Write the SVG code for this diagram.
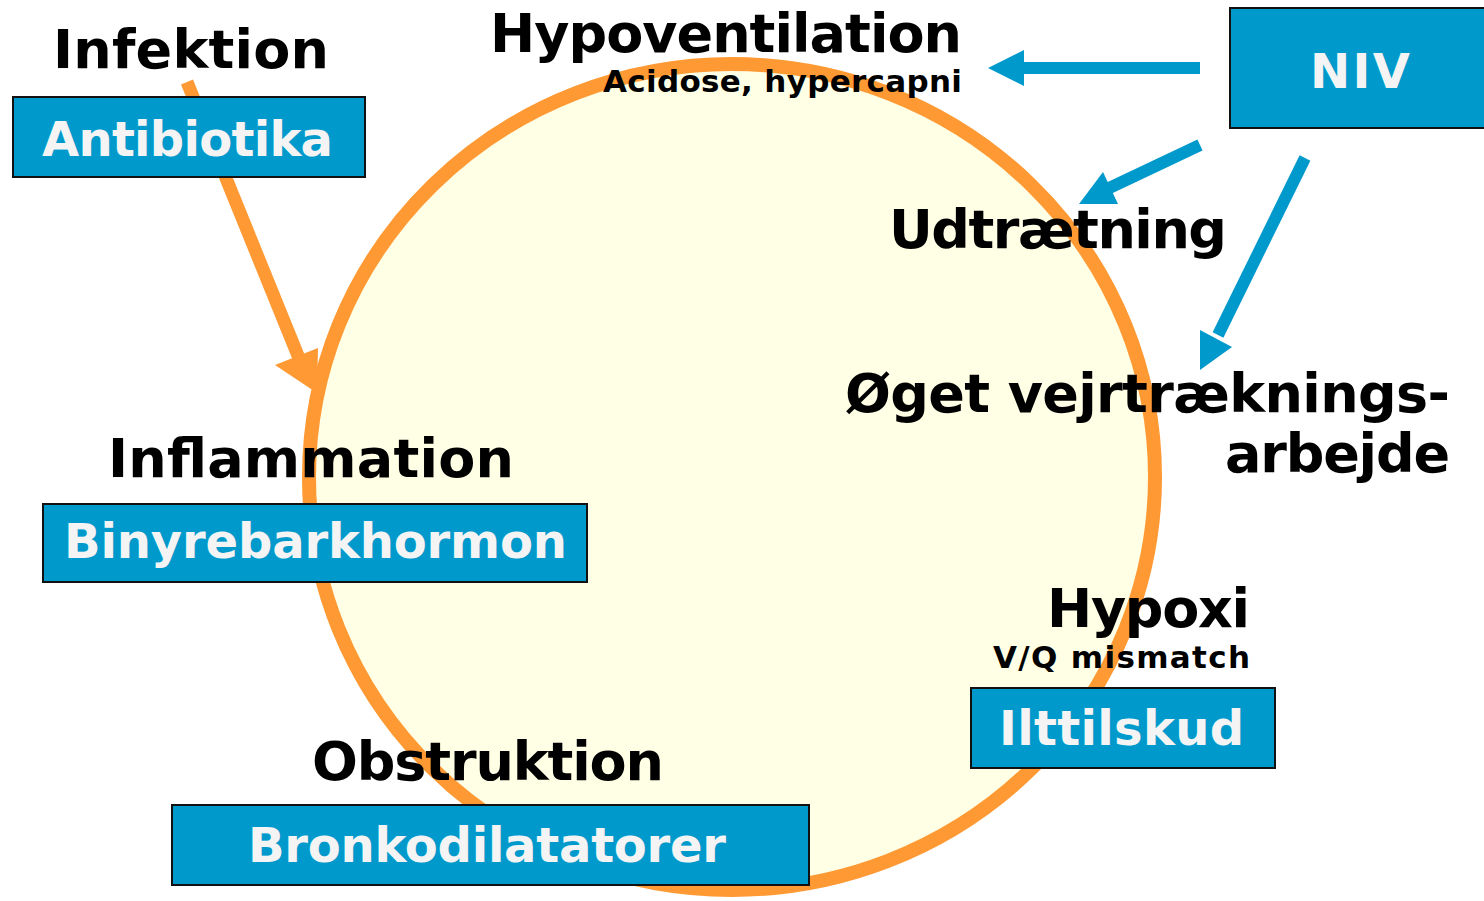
<svg xmlns="http://www.w3.org/2000/svg" width="1484" height="901" viewBox="0 0 1484 901">
<style>
.lbl{font-family:"DejaVu Sans","Liberation Sans",sans-serif;font-weight:bold;font-size:54px;fill:#000}
.sub{font-family:"DejaVu Sans","Liberation Sans",sans-serif;font-weight:bold;font-size:31px;fill:#000}
.box{fill:#0099CC;stroke:#111;stroke-width:2}
.btxt{font-family:"DejaVu Sans","Liberation Sans",sans-serif;font-weight:bold;font-size:48px;fill:#F4F4F4}
.bl{stroke:#0099CC;stroke-width:12;fill:none}
.ah{fill:#0099CC}
</style>
<rect width="1484" height="901" fill="#fff"/>
<g id="cycle">
<ellipse cx="732" cy="477" rx="423" ry="413" fill="#FFFFE6" stroke="#FF9933" stroke-width="14"/>
</g>
<g id="connectors">
<line x1="187" y1="82" x2="303" y2="368" stroke="#FF9933" stroke-width="13"/>
<polygon points="317,393 275,365 318,348" fill="#FF9933"/>
<line class="bl" x1="1200" y1="68" x2="1020" y2="68"/>
<polygon class="ah" points="988,68 1024,50 1024,86"/>
<line class="bl" x1="1200" y1="145" x2="1105" y2="190"/>
<polygon class="ah" points="1079,204 1103,172 1118,204"/>
<line class="bl" x1="1305" y1="158" x2="1218" y2="335"/>
<polygon class="ah" points="1200,370 1200,330 1232,347"/>
</g>
<g id="infektion"><text class="lbl" x="53" y="68" textLength="276">Infektion</text></g>
<g id="antibiotika"><rect class="box" x="13" y="97" width="352" height="80"/><text class="btxt" x="42" y="156" textLength="291">Antibiotika</text></g>
<g id="hypoventilation"><text class="lbl" x="490" y="52" textLength="472">Hypoventilation</text><text class="sub" x="603" y="92" textLength="359">Acidose, hypercapni</text></g>
<g id="niv"><rect class="box" x="1230" y="8" width="256" height="120"/><text class="btxt" x="1310" y="88" textLength="100">NIV</text></g>
<g id="udtraetning"><text class="lbl" x="889" y="248" textLength="338">Udtrætning</text></g>
<g id="arbejde"><text class="lbl" x="845" y="412" textLength="605">Øget vejrtræknings-</text><text class="lbl" x="1225" y="472" textLength="225">arbejde</text></g>
<g id="inflammation"><text class="lbl" x="108" y="477" textLength="406">Inflammation</text></g>
<g id="binyrebarkhormon"><rect class="box" x="43" y="504" width="544" height="78"/><text class="btxt" x="64" y="558" textLength="503">Binyrebarkhormon</text></g>
<g id="hypoxi"><text class="lbl" x="1047" y="627" textLength="203">Hypoxi</text><text class="sub" x="993" y="668" textLength="257">V/Q mismatch</text></g>
<g id="ilttilskud"><rect class="box" x="971" y="688" width="304" height="80"/><text class="btxt" x="999" y="745" textLength="245">Ilttilskud</text></g>
<g id="obstruktion"><text class="lbl" x="312" y="780" textLength="352">Obstruktion</text></g>
<g id="bronkodilatatorer"><rect class="box" x="172" y="805" width="637" height="80"/><text class="btxt" x="248" y="862" textLength="478">Bronkodilatatorer</text></g>
</svg>
